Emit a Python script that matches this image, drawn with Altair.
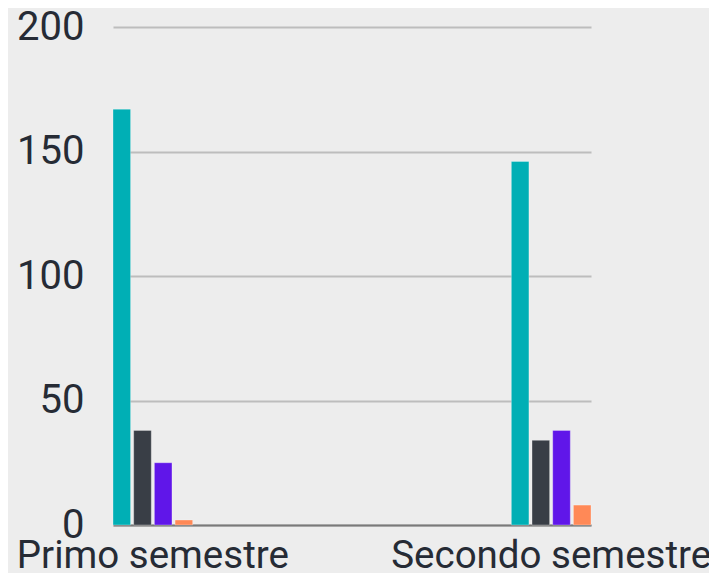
import altair as alt
import pandas as pd

periods = ["Primo semestre", "Secondo semestre"]
series = ["Serie 1", "Serie 2", "Serie 3", "Serie 4"]
values_primo = [167, 38, 25, 2]
values_secondo = [146, 34, 38, 8]
colors = ["#00afb5", "#393e46", "#6016e9", "#ff8957"]

rows = []
for p, vals in zip(periods, [values_primo, values_secondo]):
    for s, v in zip(series, vals):
        rows.append({"periodo": p, "serie": s, "valore": v})
df = pd.DataFrame(rows)

font = "Roboto"
chart = alt.Chart(df).mark_bar(stroke="#ffffff", strokeWidth=0.6, strokeOpacity=0.5).encode(
    x=alt.X("periodo:N", sort=periods, title=None,
            scale=alt.Scale(paddingInner=0.8, paddingOuter=0),
            axis=alt.Axis(labelAngle=0, ticks=False, domainColor="#7a7a7a", domainWidth=2,
                          labelFontSize=38.5, labelFont=font, labelColor="#262b35",
                          labelPadding=12, labelLimit=0, labelOverlap=False)),
    xOffset=alt.XOffset("serie:N", sort=series, scale=alt.Scale(paddingInner=0.15, paddingOuter=0)),
    y=alt.Y("valore:Q", title=None,
            scale=alt.Scale(domain=[0, 200]),
            axis=alt.Axis(values=[0, 50, 100, 150, 200], ticks=False, domain=False,
                          gridColor="#bdbdbd", gridWidth=2,
                          labelFontSize=40, labelFont=font, labelColor="#262b35",
                          labelPadding=29, labelLimit=0)),
    color=alt.Color("serie:N", sort=series, scale=alt.Scale(domain=series, range=colors), legend=None),
).properties(
    width=478, height=498,
    background="#ededed",
    padding={"left": 105, "top": 19, "right": 118, "bottom": 48},
    autosize=alt.AutoSizeParams(type="none"),
).configure_view(stroke=None)

chart.save("out.html", embed_options={"renderer": "svg", "actions": False})
